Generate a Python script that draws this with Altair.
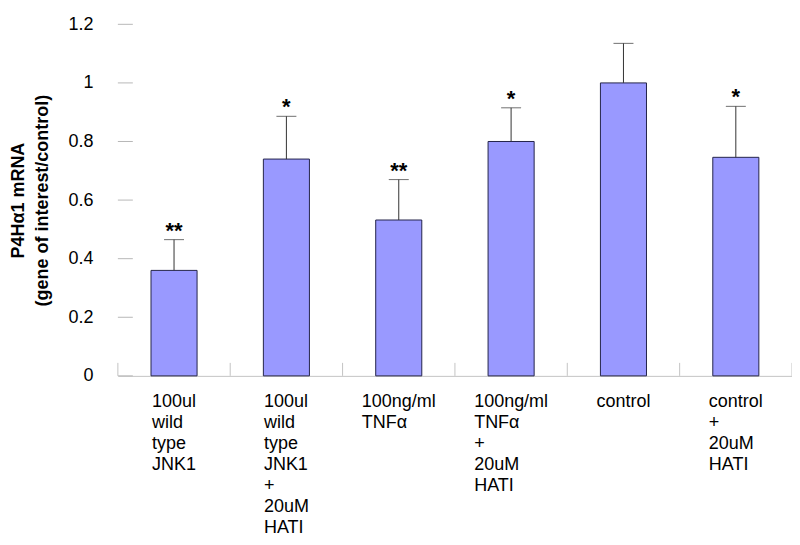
import altair as alt
import pandas as pd

categories = [
    "100ul wild type JNK1",
    "100ul wild type JNK1 + 20uM HATI",
    "100ng/ml TNFα",
    "100ng/ml TNFα + 20uM HATI",
    "control",
    "control + 20uM HATI",
]
means = [0.36, 0.74, 0.532, 0.80, 1.00, 0.746]
errors = [0.105, 0.146, 0.138, 0.115, 0.135, 0.174]
significance = ["**", "*", "**", "*", "", "*"]
y_ticks = [0, 0.2, 0.4, 0.6, 0.8, 1.0, 1.2]

FONT = "Liberation Sans"
LABEL_SIZE = 18
W_PLOT, H_PLOT = 675, 352

df = pd.DataFrame({"cat": categories, "mean": means, "err": errors, "sig": significance})
df["top"] = df["mean"] + df["err"]
df["idx"] = list(range(len(df)))
ticks_df = pd.DataFrame({"mean": y_ticks})

# approximate Arial advance widths (em) to centre left-aligned label blocks
CW = {"0": .556, "1": .556, "2": .556, "u": .556, "l": .222, "n": .556, "g": .556,
      "/": .278, "m": .833, "w": .722, "i": .222, "d": .556, "t": .278, "y": .5,
      "p": .556, "e": .556, "J": .5, "N": .722, "K": .667, "+": .584, "M": .833,
      "H": .722, "A": .667, "T": .611, "I": .278, "F": .611, "α": .58, "c": .5,
      "o": .556, "r": .333}


def half_width(label):
    return max(sum(CW.get(ch, .556) for ch in ln) for ln in label.split(" ")) * LABEL_SIZE / 2


offsets = [-round(half_width(c), 1) for c in categories]
offset_expr = ("[" + ",".join(str(o) for o in offsets) + "][indexof(["
               + ",".join("'" + c + "'" for c in categories) + "], datum.value)]")

x_axis = alt.Axis(
    title=None, ticks=False, domain=True, domainColor="#c4c4c4", domainWidth=1,
    labelAngle=0, labelAlign="left", labelBaseline="top", labelPadding=17,
    labelFont=FONT, labelFontSize=LABEL_SIZE, labelLineHeight=21, labelColor="black",
    labelExpr="split(datum.label, ' ')", labelOffset={"expr": offset_expr},
    labelLimit=0, labelOverlap=False,
)
x_scale = alt.Scale(paddingInner=0, paddingOuter=0)

y_axis = alt.Axis(
    values=y_ticks, format="~g", ticks=False, domain=False, grid=False,
    labelFont=FONT, labelFontSize=18, labelPadding=25, labelColor="black",
    title=["P4Hα1 mRNA", "(gene of interest/control)"],
    titleFont=FONT, titleFontSize=18, titleFontWeight="bold", titleColor="black",
    titlePadding=16, titleLineHeight=24,
)
y_scale = alt.Scale(domain=[0, 1.2], nice=False, zero=True)


def xe(**kw):
    return alt.X("cat:N", sort=categories, scale=x_scale, axis=x_axis, **kw)


def ye(field="mean"):
    return alt.Y(field + ":Q", scale=y_scale, axis=y_axis)


bars = alt.Chart(df).mark_bar(
    width=alt.RelativeBandSize(0.41), fill="#9999ff", stroke="#24244a", strokeWidth=1
).encode(x=xe(), y=ye())

err_line = alt.Chart(df).mark_rule(color="#333333", strokeWidth=1).encode(
    x=xe(), y=ye(), y2="top:Q"
)

caps = alt.Chart(df).mark_tick(color="#333333", thickness=1, size=20).encode(
    x=xe(), y=alt.Y("top:Q", scale=y_scale, axis=y_axis)
)

stars = alt.Chart(df).mark_text(
    font=FONT, fontSize=22, fontWeight="bold", baseline="alphabetic", dy=-2, color="black"
).encode(x=xe(), y=alt.Y("top:Q", scale=y_scale, axis=y_axis), text="sig:N")

y_tick_marks = alt.Chart(ticks_df).mark_rule(color="#b8b8b8", strokeWidth=1).encode(
    y=ye(), x=alt.value(0), x2=alt.value(15)
)

band_ticks = alt.Chart(df).mark_rule(color="#c4c4c4", strokeWidth=1).encode(
    x=xe(bandPosition=0), y=alt.value(H_PLOT - 13), y2=alt.value(H_PLOT),
)

end_tick = alt.Chart(df).transform_filter(
    alt.datum.idx == len(categories) - 1
).mark_rule(color="#c4c4c4", strokeWidth=1).encode(
    x=xe(bandPosition=1), y=alt.value(H_PLOT - 13), y2=alt.value(H_PLOT),
)

chart = alt.layer(
    bars, err_line, caps, stars, y_tick_marks, band_ticks, end_tick
).properties(
    width=W_PLOT, height=H_PLOT,
    padding={"left": 110, "top": 16, "right": 0, "bottom": 160},
    autosize=alt.AutoSizeParams(type="none"),
    background="white",
).configure_view(stroke=None)

chart.save("out.html", embed_options={"renderer": "svg", "actions": False})
